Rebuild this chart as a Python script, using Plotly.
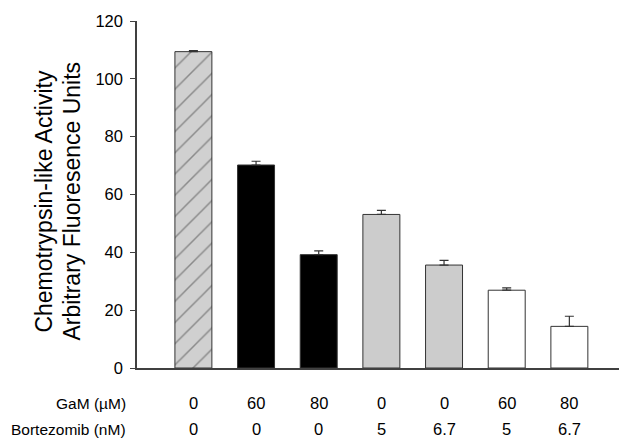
import plotly.graph_objects as go

# data
gam_labels = ["0", "60", "80", "0", "0", "60", "80"]
bortezomib_labels = ["0", "0", "0", "5", "6.7", "5", "6.7"]
activity = [109.4, 70.2, 39.2, 53.1, 35.6, 26.9, 14.4]
activity_err = [0.4, 1.3, 1.3, 1.4, 1.6, 0.8, 3.5]
bar_colors = ["#d0d0d0", "#000000", "#000000", "#cccccc", "#cccccc", "#ffffff", "#ffffff"]
bar_patterns = ["/", "", "", "", "", "", ""]
y_ticks = [0, 20, 40, 60, 80, 100, 120]

FONT = "Liberation Sans, Arial, sans-serif"
AXIS_COLOR = "#404040"

x_pos = list(range(len(activity)))

fig = go.Figure(
    go.Bar(
        x=x_pos,
        y=activity,
        width=0.59,
        marker=dict(
            color=bar_colors,
            line=dict(color="#333333", width=1),
            pattern=dict(shape=bar_patterns, fgcolor="#000000", fillmode="overlay",
                         size=15, solidity=0.1),
        ),
        error_y=dict(type="data", array=activity_err, arrayminus=[0] * len(activity),
                     symmetric=False, color="#333333", thickness=1.2, width=4.5),
        showlegend=False,
    )
)

annotations = []
for i in x_pos:
    annotations.append(dict(x=i, y=-0.101, xref="x", yref="paper", text=gam_labels[i],
                            showarrow=False, xanchor="center", yanchor="middle"))
    annotations.append(dict(x=i, y=-0.177, xref="x", yref="paper", text=bortezomib_labels[i],
                            showarrow=False, xanchor="center", yanchor="middle"))
annotations.append(dict(x=-0.019, y=-0.101, xref="paper", yref="paper", text="GaM (µM)",
                        showarrow=False, xanchor="right", yanchor="middle",
                        font=dict(size=15.5)))
annotations.append(dict(x=-0.019, y=-0.177, xref="paper", yref="paper", text="Bortezomib (nM)",
                        showarrow=False, xanchor="right", yanchor="middle",
                        font=dict(size=15.5)))
# y title, two lines placed separately to get the tight line spacing
annotations.append(dict(x=-0.1907, y=0.481, xref="paper", yref="paper",
                        text="Chemotrypsin-like Activity", textangle=-90, showarrow=False,
                        xanchor="center", yanchor="middle", font=dict(size=23)))
annotations.append(dict(x=-0.133, y=0.481, xref="paper", yref="paper",
                        text="Arbitrary Fluoresence Units", textangle=-90, showarrow=False,
                        xanchor="center", yanchor="middle", font=dict(size=23)))

# page body has an 8px margin, so the figure is shrunk and shifted to fit the window
fig.update_layout(
    width=619,
    height=438,
    margin=dict(l=129, r=5, t=4, b=78),
    paper_bgcolor="white",
    plot_bgcolor="white",
    font=dict(family=FONT, size=16.5, color="#000000"),
    xaxis=dict(range=[-0.9, 6.84], showticklabels=False, ticks="", showgrid=False,
               zeroline=False, showline=True, linecolor=AXIS_COLOR, linewidth=1.5),
    yaxis=dict(range=[0, 120], tickvals=y_ticks, ticks="outside", ticklen=5,
               tickcolor=AXIS_COLOR, showgrid=False, zeroline=False, showline=True,
               linecolor=AXIS_COLOR, linewidth=1.5, tickfont=dict(size=16.5),
               ticklabeloverflow="allow", ticklabelstandoff=4),
    annotations=annotations,
)

fig.write_html("out.html")
